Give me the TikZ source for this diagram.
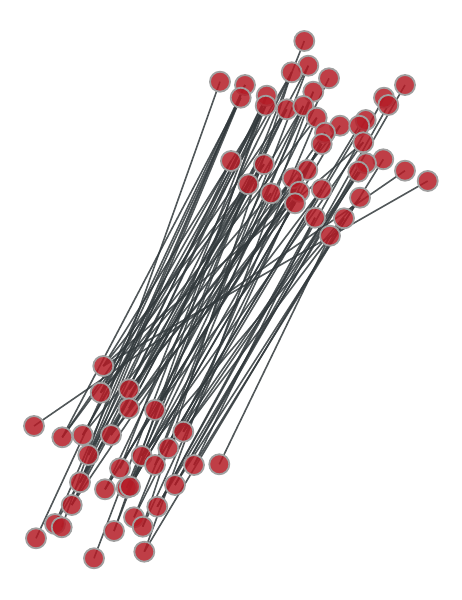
\documentclass[tikz,border=0pt]{standalone}
\usetikzlibrary{backgrounds}
\definecolor{vred}{RGB}{180,28,38}
\definecolor{vrim}{RGB}{160,160,160}
\definecolor{edgec}{RGB}{50,57,60}
\tikzset{
  vtx/.style={circle,inner sep=0pt,minimum size=20pt,fill=vred,fill opacity=0.85,draw=vrim,line width=1.8pt},
  lnk/.style={draw=edgec,line width=1.6pt,draw opacity=0.85}
}
\begin{document}
\begin{tikzpicture}[x=1pt,y=-1pt]
\useasboundingbox (0,0) rectangle (462,600);
% top cluster
\node[vtx] (t1) at (304.3,41) {};
\node[vtx] (t2) at (308.3,65.7) {};
\node[vtx] (t3) at (291.7,72.3) {};
\node[vtx] (t4) at (329,78.3) {};
\node[vtx] (t5) at (220,81.7) {};
\node[vtx] (t6) at (245,85) {};
\node[vtx] (t7) at (405,85) {};
\node[vtx] (t8) at (240.7,97.7) {};
\node[vtx] (t9) at (266.7,95.7) {};
\node[vtx] (t10) at (313.3,91.7) {};
\node[vtx] (t11) at (384,97.7) {};
\node[vtx] (t12) at (388.3,105) {};
\node[vtx] (t13) at (265.7,105.7) {};
\node[vtx] (t14) at (286.7,109.3) {};
\node[vtx] (t15) at (303.3,106) {};
\node[vtx] (t16) at (316.7,117.7) {};
\node[vtx] (t17) at (365.7,120) {};
\node[vtx] (t18) at (340,125.7) {};
\node[vtx] (t19) at (359.3,125.7) {};
\node[vtx] (t20) at (325,132.7) {};
\node[vtx] (t21) at (321.7,144) {};
\node[vtx] (t22) at (363.3,142.3) {};
\node[vtx] (t23) at (231,161) {};
\node[vtx] (t24) at (264,164.3) {};
\node[vtx] (t25) at (307.3,170) {};
\node[vtx] (t26) at (383.3,159.3) {};
\node[vtx] (t27) at (366,163.3) {};
\node[vtx] (t28) at (358.3,171.7) {};
\node[vtx] (t29) at (405,170.7) {};
\node[vtx] (t30) at (427.7,181) {};
\node[vtx] (t31) at (248.3,184.3) {};
\node[vtx] (t32) at (292.7,178.3) {};
\node[vtx] (t33) at (271,193.3) {};
\node[vtx] (t34) at (321.7,189.3) {};
\node[vtx] (t35) at (299.3,191.7) {};
\node[vtx] (t36) at (295,203.3) {};
\node[vtx] (t37) at (360,197.7) {};
\node[vtx] (t38) at (315,217.7) {};
\node[vtx] (t39) at (344,218.3) {};
\node[vtx] (t40) at (330,235.7) {};
% bottom cluster
\node[vtx] (b1) at (103.3,366) {};
\node[vtx] (b2) at (100.7,392.7) {};
\node[vtx] (b3) at (129,389.3) {};
\node[vtx] (b4) at (129,408.3) {};
\node[vtx] (b5) at (155,410) {};
\node[vtx] (b6) at (34,426) {};
\node[vtx] (b7) at (62.3,437.3) {};
\node[vtx] (b8) at (82.7,435) {};
\node[vtx] (b9) at (111,435) {};
\node[vtx] (b10) at (183.3,431.7) {};
\node[vtx] (b11) at (88.3,455) {};
\node[vtx] (b12) at (141.7,456) {};
\node[vtx] (b13) at (168.3,448.3) {};
\node[vtx] (b14) at (155,465) {};
\node[vtx] (b15) at (120,468.3) {};
\node[vtx] (b16) at (194,465) {};
\node[vtx] (b17) at (219.3,464.3) {};
\node[vtx] (b18) at (80,482.3) {};
\node[vtx] (b19) at (105,489.3) {};
\node[vtx] (b20) at (126.7,487.7) {};
\node[vtx] (b21) at (130,486.7) {};
\node[vtx] (b22) at (175,485) {};
\node[vtx] (b23) at (71.7,505) {};
\node[vtx] (b24) at (157.3,506.7) {};
\node[vtx] (b25) at (55,524) {};
\node[vtx] (b26) at (61.7,527.3) {};
\node[vtx] (b27) at (134,517.3) {};
\node[vtx] (b28) at (142.7,526.7) {};
\node[vtx] (b29) at (114,531) {};
\node[vtx] (b30) at (36,538.3) {};
\node[vtx] (b31) at (94,558.3) {};
\node[vtx] (b32) at (144.3,551.7) {};
\begin{scope}[on background layer]
\foreach \a/\b in {b1/t30,b1/t13,b1/t24,b1/t22,b2/t6,b2/t23,b2/t33,b2/t16,b3/t9,b3/t25,b3/t18,
  b4/t14,b4/t31,b4/t36,b5/t15,b5/t21,b5/t34,b6/t29,b7/t8,b7/t24,b7/t14,b8/t13,b8/t32,b8/t3,
  b9/t3,b9/t20,b9/t35,b10/t16,b10/t27,b10/t39,b11/t6,b11/t31,b11/t9,b12/t10,b12/t22,b12/t37,
  b13/t17,b13/t28,b14/t2,b14/t19,b14/t34,b15/t9,b15/t33,b16/t26,b16/t38,b17/t40,
  b18/t8,b18/t23,b18/t15,b19/t14,b19/t25,b19/t21,b20/t1,b20/t21,b21/t4,b21/t18,b21/t36,b22/t12,b22/t37,b22/t7,
  b23/t13,b23/t32,b23/t2,b24/t11,b24/t28,b24/t38,b25/t6,b25/t24,b26/t5,b27/t15,b27/t35,
  b28/t3,b28/t20,b29/t9,b29/t31,b30/t8,b31/t13,b32/t10,b32/t39}
  \draw[lnk] (\a.center) -- (\b.center);
\end{scope}
\end{tikzpicture}
\end{document}
